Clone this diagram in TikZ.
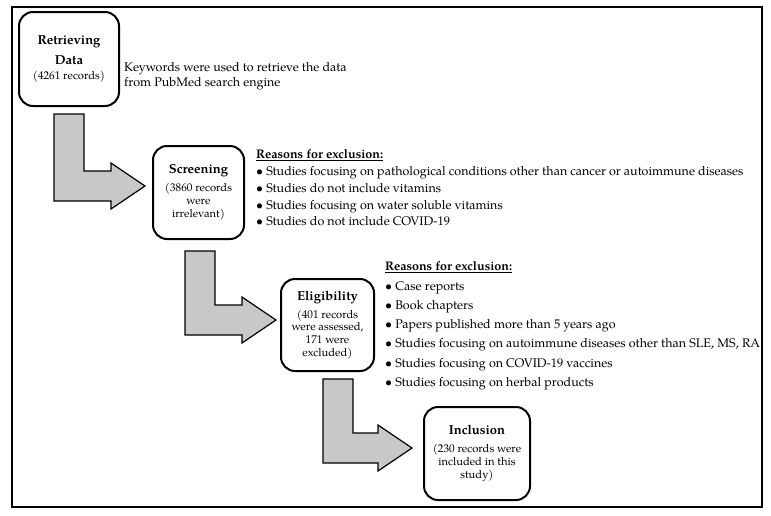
\documentclass[tikz,border=0pt]{standalone}
\usepackage{fontspec}
\setmainfont{texgyrepagella}[Extension=.otf, UprightFont=*-regular, BoldFont=*-bold, ItalicFont=*-italic, BoldItalicFont=*-bolditalic]
\usetikzlibrary{calc}
\definecolor{arrowgray}{RGB}{200,200,200}
\newcommand\boxtitle{\fontsize{13}{15}\selectfont\bfseries}
\tikzset{
  stage/.style={draw=black, line width=2pt, rounded corners=14pt, align=center, inner sep=0pt, font=\fontsize{11.2}{12.8}\selectfont},
  barrow/.style={draw=black, line width=1.2pt, fill=arrowgray, line join=miter},
  note/.style={anchor=north west, inner sep=0pt, align=left},
}
\newcommand\blockarrow[2]{%
  \draw[barrow] ($(#1)+(-15,0)$) -- ($(#1)+(15,0)$) -- ($(#1 |- #2)+(15,-15)$) -- ($(#2)+(-34,-15)$) -- ($(#2)+(-34,-23)$) -- (#2) -- ($(#2)+(-34,23)$) -- ($(#2)+(-34,15)$) -- ($(#1 |- #2)+(-15,15)$) -- cycle;}
\begin{document}
\begin{tikzpicture}[x=1pt,y=-1pt]
\useasboundingbox (0,0) rectangle (771,515);
\draw[line width=1.3pt] (12,7) rectangle (762,507);
% stages
\node[stage, minimum width=100pt, minimum height=94pt] (ret) at (69,59) {\boxtitle Retrieving\\[7pt]\boxtitle Data\\[2pt](4261 records)};
\node[stage, minimum width=91pt, minimum height=93pt] (scr) at (198.5,192.5) {\boxtitle Screening\\[5pt](3860 records\\were\\irrelevant)};
\node[stage, minimum width=93pt, minimum height=92pt] (eli) at (327.5,325) {\boxtitle Eligibility\\[5pt](401 records\\were assessed,\\171 were\\excluded)};
\node[stage, minimum width=106pt, minimum height=93pt] (inc) at (477,453.5) {\boxtitle Inclusion\\[5pt](230 records were\\included in this\\study)};
% notes
\node[note, font=\fontsize{12.5}{15}\selectfont] (kw) at (124,62.5) {Keywords were used to retrieve the data\\from PubMed search engine};
\node[note, font=\fontsize{12.5}{16.8}\selectfont] (scrlist) at (256,149.5) {\underline{\textbf{Reasons for exclusion:}}\\
\textbullet\ Studies focusing on pathological conditions other than cancer or autoimmune diseases\\
\textbullet\ Studies do not include vitamins\\
\textbullet\ Studies focusing on water soluble vitamins\\
\textbullet\ Studies do not include COVID-19};
\node[note, font=\fontsize{12.5}{19.3}\selectfont] (elilist) at (385,261.5) {\underline{\textbf{Reasons for exclusion:}}\\
\textbullet\ Case reports\\
\textbullet\ Book chapters\\
\textbullet\ Papers published more than 5 years ago\\
\textbullet\ Studies focusing on autoimmune diseases other than SLE, MS, RA\\
\textbullet\ Studies focusing on COVID-19 vaccines\\
\textbullet\ Studies focusing on herbal products};
% block arrows
\coordinate (s1) at ($(ret.south)+(0,7)$);
\coordinate (t1) at ($(scr.west)+(-7,-6.5)$);
\coordinate (s2) at ($(scr.south)+(1.5,11)$);
\coordinate (t2) at ($(eli.west)+(-4,-5)$);
\coordinate (s3) at ($(eli.south)+(10.5,7)$);
\coordinate (t3) at ($(inc.west)+(-11,-5.5)$);
\blockarrow{s1}{t1}
\blockarrow{s2}{t2}
\blockarrow{s3}{t3}
\end{tikzpicture}
\end{document}
